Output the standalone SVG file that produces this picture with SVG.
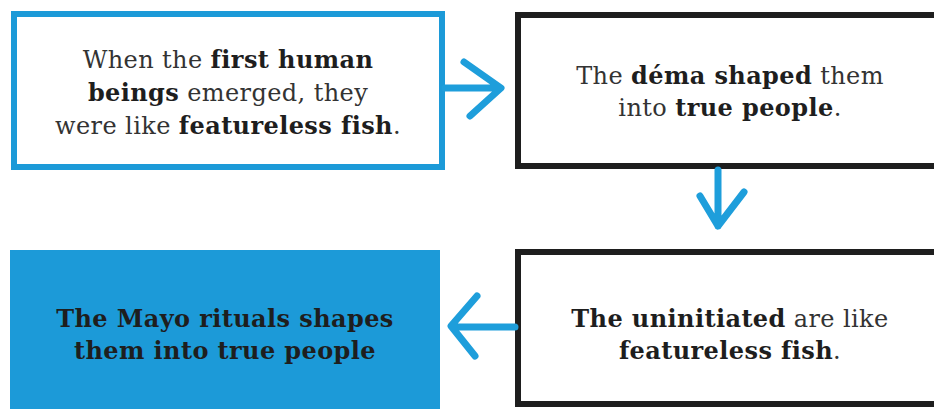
<svg xmlns="http://www.w3.org/2000/svg" width="934" height="409" viewBox="0 0 934 409">
<style>
.t{font-family:"DejaVu Serif","Liberation Serif",serif;font-size:24px;letter-spacing:0.4px;fill:#333333;text-anchor:middle}
.b{font-weight:bold;fill:#1e1e1e}
.arrow{fill:none;stroke:#1e9edb;stroke-width:7;stroke-linecap:round;stroke-linejoin:round}
</style>
<rect width="934" height="409" fill="#ffffff"/>
<g id="node1">
<rect x="14" y="14" width="428" height="153" fill="#fff" stroke="#1c9ad8" stroke-width="6"/>
<text class="t" x="228" y="68">When the <tspan class="b">first human</tspan></text>
<text class="t" x="228" y="101"><tspan class="b">beings</tspan> emerged, they</text>
<text class="t" x="228" y="134">were like <tspan class="b">featureless fish</tspan>.</text>
</g>
<g id="node2">
<rect x="518" y="15" width="420" height="151" fill="#fff" stroke="#1e1e1e" stroke-width="6"/>
<text class="t" x="730" y="84">The <tspan class="b">déma shaped</tspan> them</text>
<text class="t" x="730" y="116">into <tspan class="b">true people</tspan>.</text>
</g>
<g id="node3">
<rect x="10" y="250" width="430" height="162" fill="#1c9ad8"/>
<text class="t b" x="225" y="327">The Mayo rituals shapes</text>
<text class="t b" x="225" y="359">them into true people</text>
</g>
<g id="node4">
<rect x="518" y="252" width="420" height="152" fill="#fff" stroke="#1e1e1e" stroke-width="6"/>
<text class="t" x="730" y="327"><tspan class="b">The uninitiated</tspan> are like</text>
<text class="t" x="730" y="359"><tspan class="b">featureless fish</tspan>.</text>
</g>
<g id="connectors">
<path class="arrow" d="M445 88 L500 88 M464 62 L501 88 L470 116"/>
<path class="arrow" d="M718 170 L718 226 M700 196 L718 226 L744 192"/>
<path class="arrow" d="M515 327 L452 327 M477 296 L451 326 L475 356"/>
</g>
</svg>
